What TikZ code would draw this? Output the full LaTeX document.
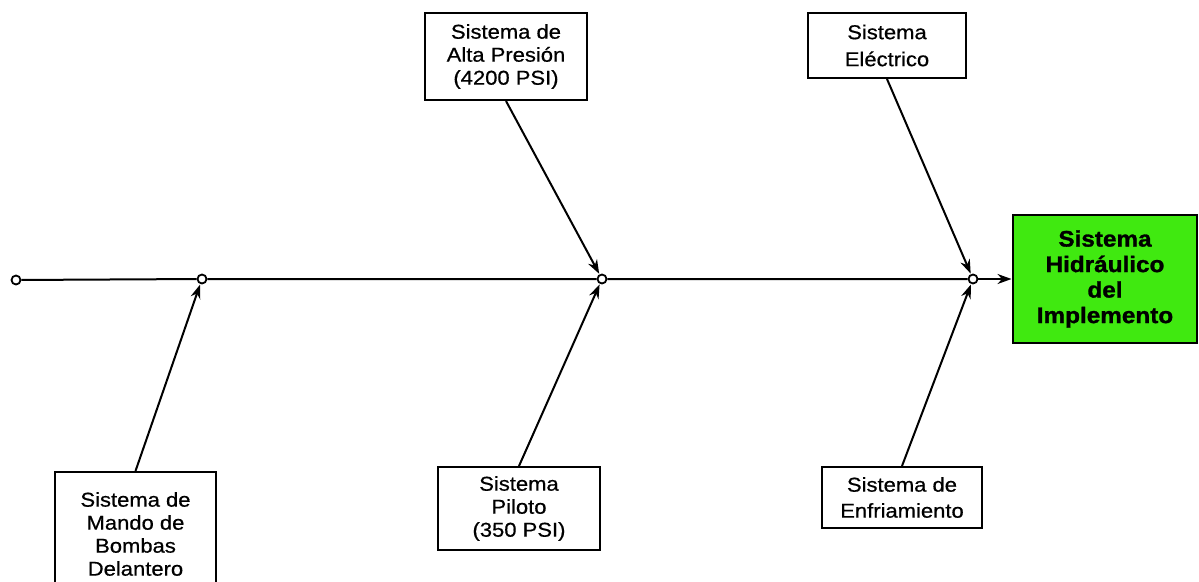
\documentclass[tikz,border=0pt]{standalone}
\usepackage{fontspec}
\setmainfont{Liberation Sans}[FakeStretch=1.1]
\newfontfamily\causefont{Liberation Sans}[FakeStretch=1.1,FakeBold=0.6]
\newfontfamily\effectfont{Liberation Sans Bold}[FakeStretch=1.08,FakeBold=1.2]
\usetikzlibrary{arrows.meta,calc}
\definecolor{effectgreen}{RGB}{64,233,16}
\begin{document}
\begin{tikzpicture}[x=1pt,y=-1pt,
  causebox/.style={draw=black,line width=2pt,fill=white,align=center,
    inner sep=0pt,font=\causefont\fontsize{20}{23}\selectfont},
  effectbox/.style={draw=black,line width=2pt,fill=effectgreen,align=center,
    inner sep=0pt,font=\effectfont\fontsize{22.5}{25.5}\selectfont},
  joint/.style={circle,draw=black,line width=1.8pt,fill=white,inner sep=0pt,
    minimum size=9pt},
  spine/.style={line width=2pt},
  branch/.style={line width=2pt,-{Stealth[length=14pt,width=10pt]},shorten >=0.5pt}]
\useasboundingbox (0,0) rectangle (1199,581);

% spine joints
\node[joint] (c0) at (16,280) {};
\node[joint] (c1) at (202,279) {};
\node[joint] (c2) at (602,279) {};
\node[joint] (c3) at (973,279) {};

% effect
\node[effectbox,minimum width=184pt,minimum height=128pt] (eff) at (1105,279)
  {Sistema\\Hidráulico\\del\\Implemento};

% causes
\node[causebox,minimum width=162pt,minimum height=87pt] (alta) at (506,56.5)
  {Sistema de\\Alta Presión\\(4200 PSI)};
\node[causebox,minimum width=158pt,minimum height=65pt,
  font=\causefont\fontsize{20}{27}\selectfont] (elec) at (887,45.5)
  {Sistema\\Eléctrico};
\node[causebox,minimum width=161pt,minimum height=124pt] (mando) at (135.5,534)
  {Sistema de\\Mando de\\Bombas\\Delantero};
\node[causebox,minimum width=162pt,minimum height=83pt] (piloto) at (519,508.5)
  {Sistema\\Piloto\\(350 PSI)};
\node[causebox,minimum width=160pt,minimum height=61pt,
  font=\causefont\fontsize{20}{26}\selectfont] (enfr) at (902,497.5)
  {Sistema de\\Enfriamiento};

% spine
\draw[spine] (c0) -- (c1) -- (c2) -- (c3);
\draw[branch] (c3) -- (eff.west);

% branches
\draw[branch] (alta.south) -- (c2);
\draw[branch] (piloto.north) -- (c2);
\draw[branch] (mando.north) -- (c1);
\draw[branch] (elec.south) -- (c3);
\draw[branch] (enfr.north) -- (c3);
\end{tikzpicture}
\end{document}
